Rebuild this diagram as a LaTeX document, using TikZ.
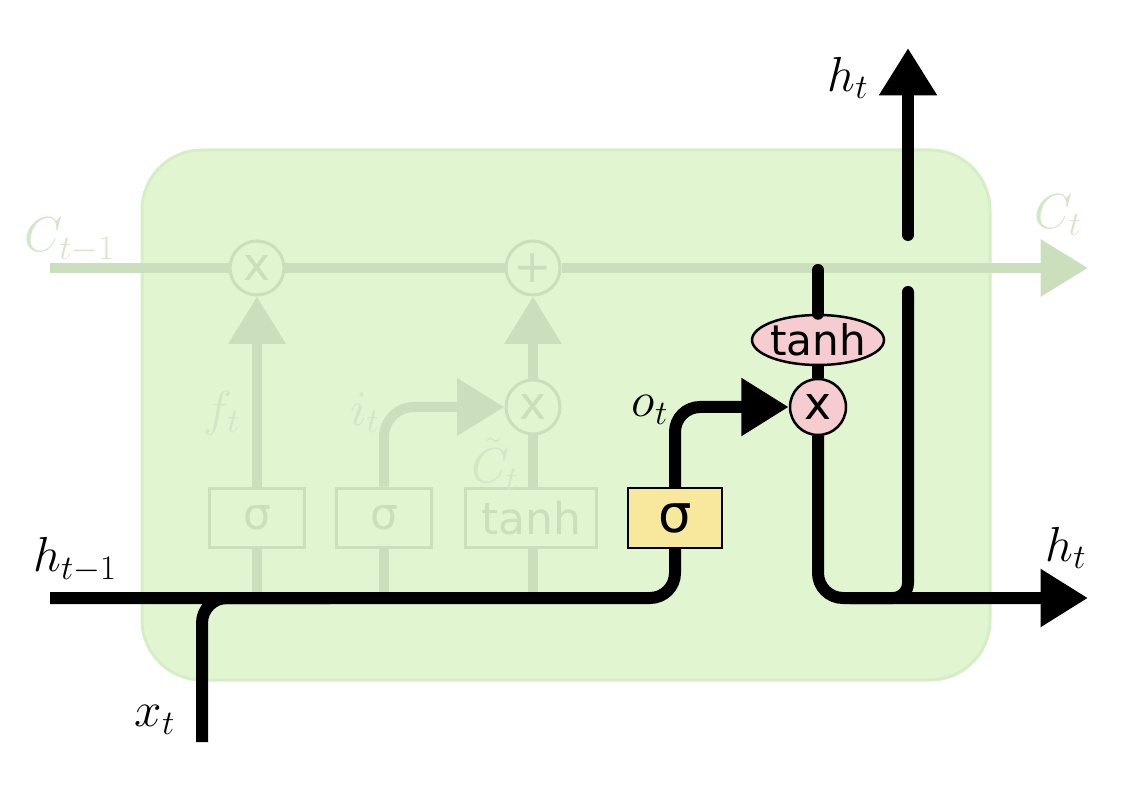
\documentclass[tikz,border=0pt]{standalone}
\usepackage{fix-cm}
\usepackage{amsmath, amssymb}
\usepackage{fontspec}
\usepackage{xcolor}
\usepackage{tikz}
\usetikzlibrary{arrows.meta, shapes.geometric, positioning}

\newfontfamily\gatefont{DejaVu Sans}
\definecolor{cellgreen}{RGB}{224,245,208}
\definecolor{celledge}{RGB}{214,238,198}
\definecolor{fadegray}{RGB}{203,223,189}
\definecolor{fadeword}{RGB}{212,229,200}
\definecolor{gateyellow}{RGB}{248,232,156}
\definecolor{gatepink}{RGB}{246,204,208}

\tikzset{
  bold/.style={line width=0.24cm, black},
  fade/.style={line width=0.2cm, fadegray},
  fadeop/.style={circle, draw=fadegray, line width=0.06cm, fill=cellgreen,
    minimum size=1.08cm, inner sep=0pt, text=fadegray, font=\gatefont\fontsize{26}{28}\selectfont},
  fadebox/.style={rectangle, draw=fadegray, line width=0.06cm, minimum width=1.9cm,
    minimum height=1.2cm, inner sep=0pt, text=fadegray, font=\gatefont\fontsize{25}{28}\selectfont},
  fadelabel/.style={text=fadeword},
  gatebox/.style={rectangle, draw=black, line width=0.05cm, fill=gateyellow, minimum width=1.88cm,
    minimum height=1.2cm, inner sep=0pt, font=\gatefont\fontsize{30}{32}\selectfont},
  pinkop/.style={circle, draw=black, line width=0.05cm, fill=gatepink, minimum size=1.12cm,
    inner sep=0pt, font=\gatefont\fontsize{26}{28}\selectfont},
  pinkfun/.style={ellipse, draw=black, line width=0.05cm, fill=gatepink, minimum width=2.64cm,
    minimum height=1.0cm, inner sep=-3pt, font=\gatefont\fontsize{24}{26}\selectfont},
}

\begin{document}
\begin{tikzpicture}[x=0.02cm, y=-0.02cm, >={Triangle[length=0.95cm, width=1.1cm]},
    every node/.style={font=\fontsize{28}{32}\selectfont}]

    \useasboundingbox (0,0) rectangle (1138,786);
    % the cell
    \fill[cellgreen, draw=celledge, line width=0.06cm, rounded corners=1.2cm]
        (142,150) rectangle (990,680);

    % faded: cell state and the other gates
    \coordinate (cin) at (50,268);
    \coordinate (cout) at (1088,268);
    \node[fadeop] (fmul) at (257,268) {x};
    \node[fadeop] (cadd) at (533,268) {+};
    \node[fadeop] (imul) at (533,407) {x};
    \node[fadebox] (fgate) at (257,518) {σ};
    \node[fadebox] (igate) at (384,518) {σ};
    \node[fadebox, minimum width=2.64cm] (cgate) at (531,518) {tanh};
    \draw[fade] (cin) -- (fmul);
    \draw[fade] (fmul) -- (cadd);
    \draw[fade, ->] (cadd) -- (cout);
    \draw[fade, ->] (fgate) -- (fmul);
    \draw[fade, ->, rounded corners=0.6cm] (igate) |- (imul);
    \draw[fade] (cgate.north -| imul) -- (imul);
    \draw[fade, ->] (imul) -- (cadd);
    \draw[fade] (fgate) -- (257,598);
    \draw[fade] (igate) -- (384,598);
    \draw[fade] (cgate.south -| imul) -- (533,598);
    \node[fadelabel] (clabel) at (70,240) {$C_{t-1}$};
    \node[fadelabel] (cnewlabel) at (1058,215) {$C_t$};
    \node[fadelabel] (flabel) at (222,413) {$f_t$};
    \node[fadelabel] (ilabel) at (365,413) {$i_t$};
    \node[fadelabel, inner sep=0pt] (ctlabel) at (495,464) {$\tilde{C}_t$};

    % output gate
    \coordinate (hin) at (50,598);
    \coordinate (xin) at (202,742);
    \coordinate (hjoin) at (330,598);
    \coordinate (hout) at (1088,598);
    \coordinate (ctap) at (818,270);
    \coordinate (gapbot) at (908,292);
    \coordinate (gaptop) at (908,235);
    \coordinate (htop) at (908,48);
    \coordinate (hmerge) at (850,598);
    \node[gatebox] (ogate) at (675,518) {σ};
    \node[pinkop] (omul) at (818,407) {x};
    \node[pinkfun] (otanh) at (818,340) {tanh};

    \draw[bold, rounded corners=0.5cm] (hin) -| (ogate);
    \draw[bold, rounded corners=0.5cm] (xin) |- (hjoin);
    \draw[bold, rounded corners=0.5cm, ->] (ogate) |- (omul);
    \draw[bold, line cap=round] (ctap) -- (otanh);
    \draw[bold] (otanh) -- (omul);
    \draw[bold, rounded corners=0.5cm, ->] (omul) |- (hout);
    \draw[bold, rounded corners=0.3cm, line cap=round] (gapbot) |- (hmerge);
    \draw[bold, line cap=round, ->] (gaptop) -- (htop);

    \node (htoplabel) at (848,78) {$h_t$};
    \node (houtlabel) at (1066,548) {$h_t$};
    \node (hinlabel) at (75,560) {$h_{t-1}$};
    \node (xlabel) at (155,720) {$x_t$};
    \node (olabel) at (650,410) {$o_t$};

\end{tikzpicture}
\end{document}
